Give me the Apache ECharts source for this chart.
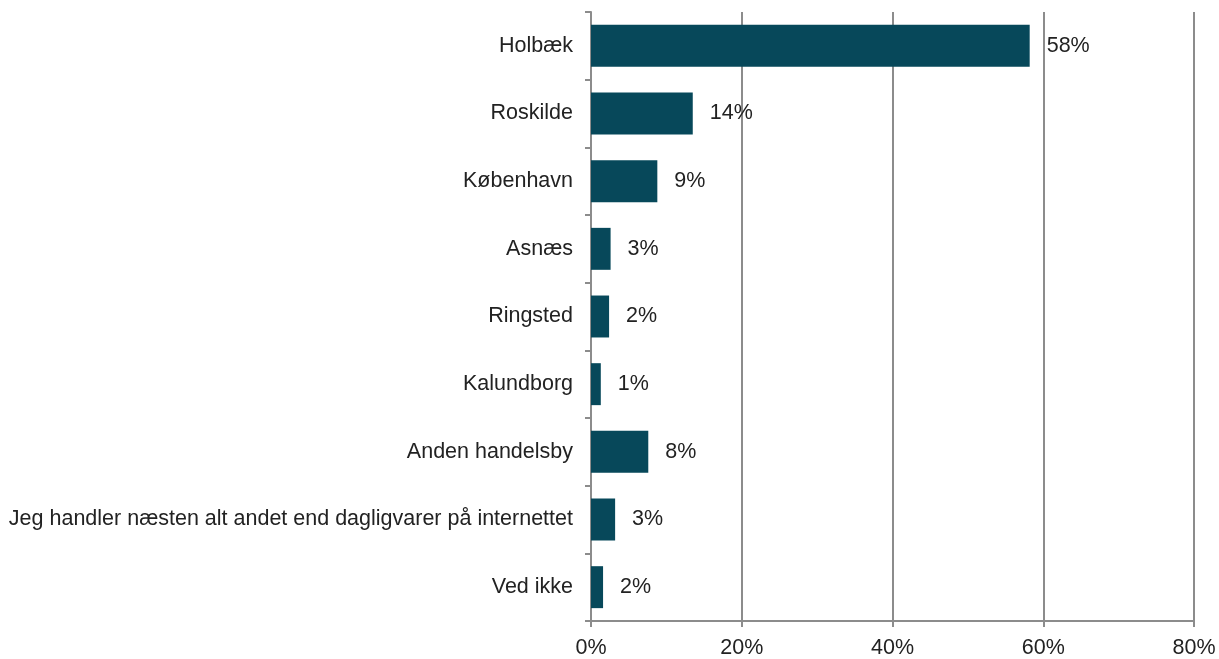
<!DOCTYPE html>
<html>
<head>
<meta charset="utf-8">
<script src="https://cdn.jsdelivr.net/npm/echarts@6/dist/echarts.min.js"></script>
<style>
html,body{margin:0;padding:0;background:#fff;}
#chart{width:1219px;height:659px;}
</style>
</head>
<body>
<div id="chart"></div>
<script>
const categories = ["Holbæk","Roskilde","København","Asnæs","Ringsted","Kalundborg","Anden handelsby","Jeg handler næsten alt andet end dagligvarer på internettet","Ved ikke"];
const values = [58.2, 13.5, 8.8, 2.6, 2.4, 1.3, 7.6, 3.2, 1.6];
const valueLabels = ["58%","14%","9%","3%","2%","1%","8%","3%","2%"];
const xTicks = [0, 20, 40, 60, 80];

const chart = echarts.init(document.getElementById('chart'));
const gray = '#8c8c8c';
const font = {color: '#222', fontFamily: 'Liberation Sans', fontSize: 21.5};
chart.setOption({
  animation: false,
  grid: {left: 591, right: 25, top: 12, bottom: 36, containLabel: false},
  xAxis: {
    type: 'value', min: xTicks[0], max: xTicks[xTicks.length-1], interval: 20,
    axisLine: {show: true, lineStyle: {color: gray, width: 2}},
    axisTick: {show: true, length: 6, lineStyle: {color: gray, width: 2}},
    splitLine: {show: true, lineStyle: {color: gray, width: 2}},
    axisLabel: Object.assign({formatter: v => v + '%', margin: 16}, font)
  },
  yAxis: {
    type: 'category', inverse: true, data: categories,
    axisLine: {show: true, lineStyle: {color: gray, width: 2}},
    axisTick: {show: true, length: 6, lineStyle: {color: gray, width: 2}},
    axisLabel: Object.assign({margin: 18}, font)
  },
  series: [{
    type: 'bar', data: values, barCategoryGap: '38%',
    itemStyle: {color: '#07485A'},
    label: Object.assign({show: true, position: 'right', distance: 17,
      formatter: p => valueLabels[p.dataIndex]}, font)
  }]
});
</script>
</body>
</html>
